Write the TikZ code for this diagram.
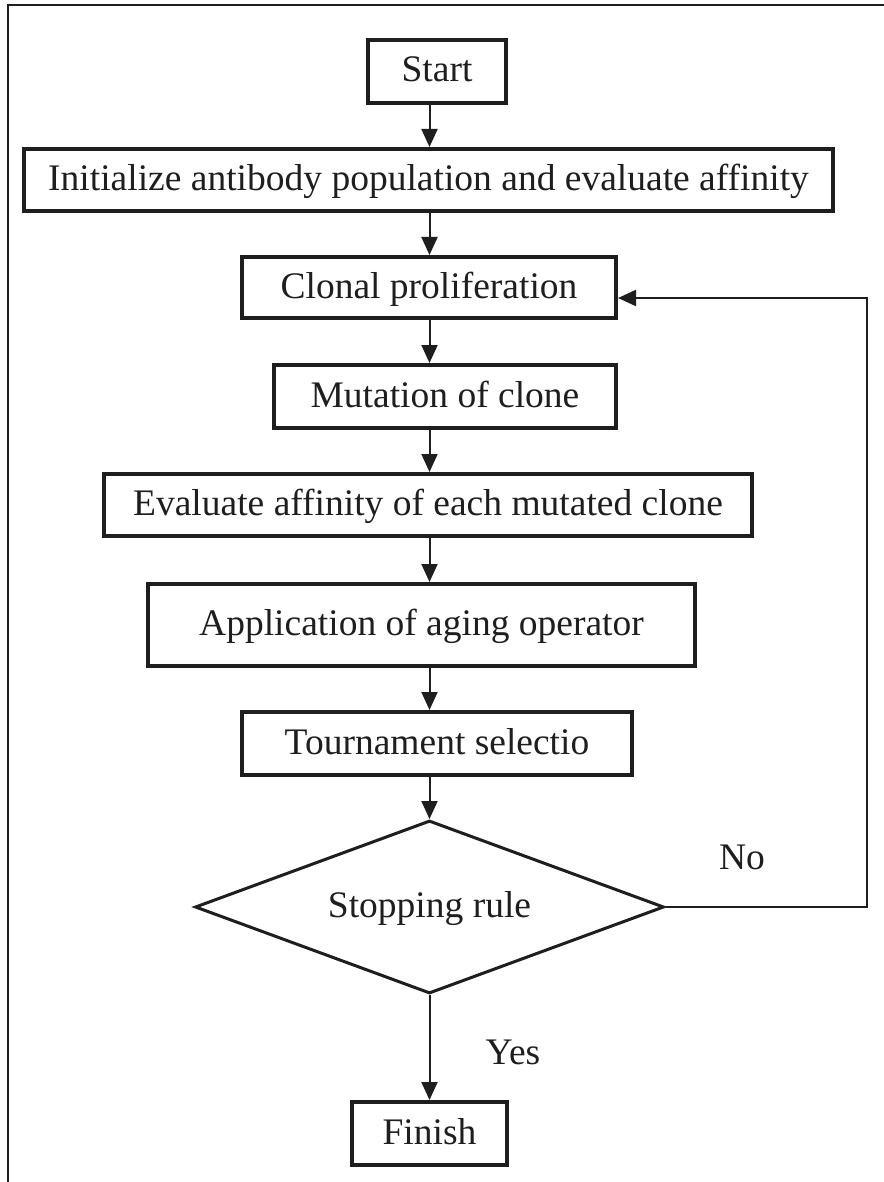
\documentclass[tikz,border=0pt]{standalone}
\usepackage{fontspec}
\setmainfont{Liberation Serif}
\usetikzlibrary{arrows.meta,shapes.geometric}
\definecolor{ink}{HTML}{1E1E1E}
\tikzset{
  stepbox/.style={draw=ink, line width=4pt, rectangle, inner sep=0pt,
    text height=26pt, text depth=5pt, text=ink},
  decision/.style={draw=ink, line width=3pt, diamond, inner sep=0pt, aspect=2.7,
    text height=26pt, text depth=5pt, text=ink},
  lbl/.style={inner sep=0pt, text=ink},
  arr/.style={draw=ink, line width=2pt, -{Triangle[width=16pt,length=18pt]}},
}
\begin{document}
\begin{tikzpicture}[x=1pt, y=-1pt, font=\fontsize{37.5}{40}\selectfont]
\useasboundingbox (0,0) rectangle (883,1182);
\fill[white] (0,0) rectangle (883,1182);
% frame (right and bottom sides lie outside the picture)
\draw[ink, line width=1.5pt] (8,1190) -- (8,5) -- (890,5);

\node[stepbox, minimum width=138pt, minimum height=63pt] (start) at (437,71.5) {Start};
\node[stepbox, minimum width=809pt, minimum height=62pt] (init) at (428.5,180) {Initialize antibody population and evaluate affinity};
\node[stepbox, minimum width=374pt, minimum height=61pt] (clonal) at (429,287.5) {Clonal proliferation};
\node[stepbox, minimum width=342pt, minimum height=63pt] (mut) at (445,396.5) {Mutation of clone};
\node[stepbox, minimum width=648pt, minimum height=62pt] (eval) at (428,505) {Evaluate affinity of each mutated clone};
\node[stepbox, minimum width=547pt, minimum height=82pt] (aging) at (421.5,625) {Application of aging operator};
\node[stepbox, minimum width=390pt, minimum height=63pt] (tour) at (437,743.5) {Tournament selectio};
\node[decision, minimum width=469pt, minimum height=173pt] (stop) at (429.5,907) {Stopping rule};
\node[stepbox, minimum width=155pt, minimum height=63pt] (finish) at (429.5,1133.5) {Finish};

\node[lbl] (no) at (742,857) {No};
\node[lbl] (yes) at (513,1052) {Yes};

\coordinate (ax) at (429.5,0);
\coordinate (fb) at (867,298);

\draw[arr] (start.south -| ax) -- (init.north -| ax);
\draw[arr] (init.south -| ax) -- (clonal.north -| ax);
\draw[arr] (clonal.south -| ax) -- (mut.north -| ax);
\draw[arr] (mut.south -| ax) -- (eval.north -| ax);
\draw[arr] (eval.south -| ax) -- (aging.north -| ax);
\draw[arr] (aging.south -| ax) -- (tour.north -| ax);
\draw[arr] (tour.south -| ax) -- (stop.north);
\draw[arr] (stop.south) -- (finish.north -| stop.south);
\draw[arr] (stop.east) -| (fb) -- (clonal.east |- fb);
\end{tikzpicture}
\end{document}
